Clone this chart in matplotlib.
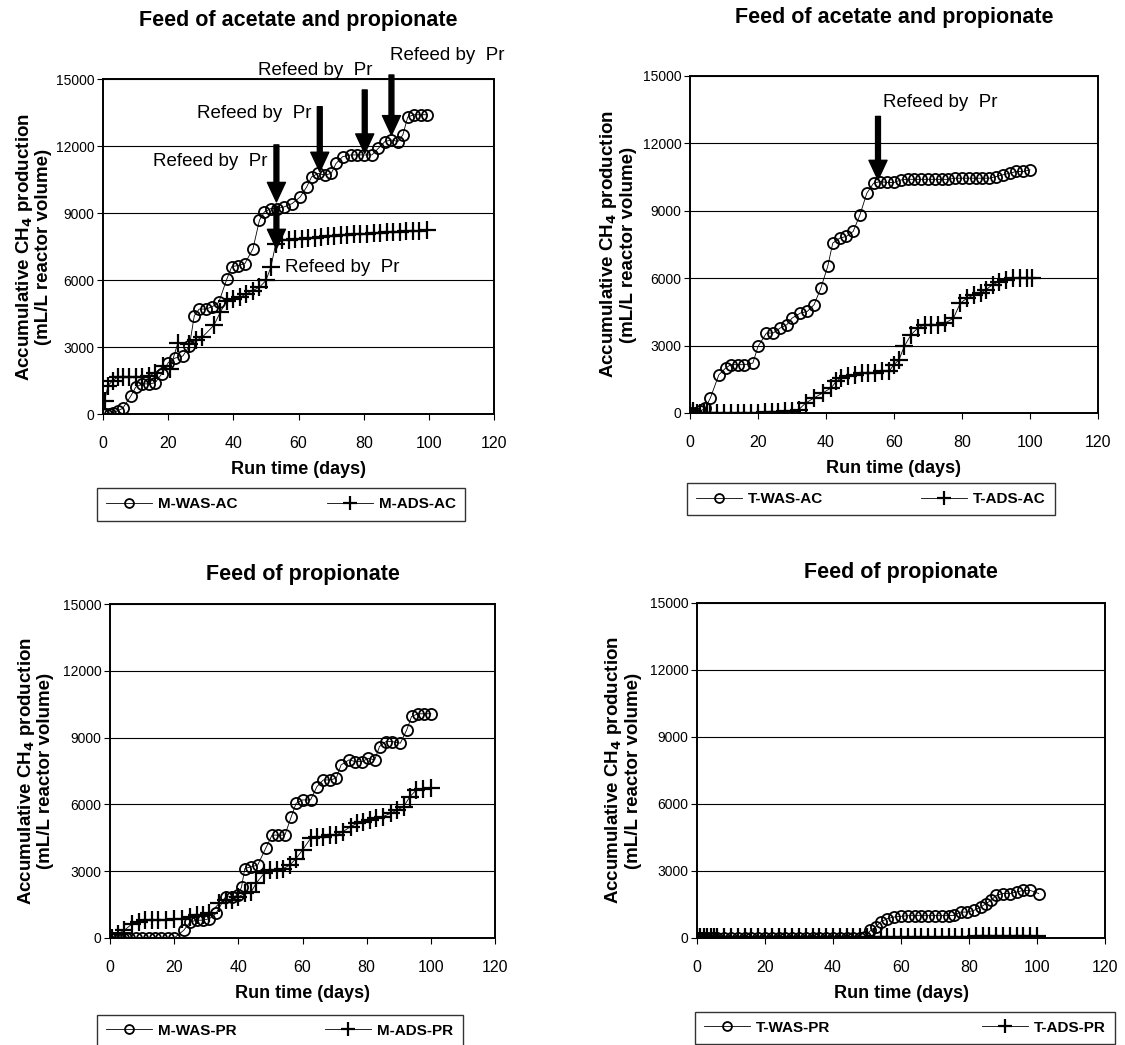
import matplotlib
matplotlib.use("Agg")
import matplotlib.pyplot as plt

plt.rcParams['font.family'] = ['Liberation Sans', 'DejaVu Sans']

# ---- data ----
mwas_ac_day = [0, 1, 2, 3, 4.5, 6, 8.5, 10, 12, 14, 16, 18, 20, 22, 24.5, 26.5, 28, 29.5, 31.5, 33.5,
               35.5, 38, 39.5, 41.5, 43.5, 46, 48, 49.5, 51.5, 53.5, 55.5, 58, 60.5, 62.5, 64, 66, 68, 70,
               71.5, 73.5, 76, 78, 80, 82.5, 84.5, 86.5, 88.5, 90.5, 92, 93.5, 95.5, 97.5, 99.5]
mwas_ac_val = [0, 0, 0, 50, 150, 250, 800, 1200, 1350, 1350, 1400, 1800, 2300, 2500, 2600, 3050, 4400, 4700, 4700, 4800,
               5000, 6050, 6600, 6650, 6730, 7400, 8680, 9050, 9200, 9200, 9270, 9420, 9720, 10170, 10620, 10770, 10700, 10770,
               11220, 11520, 11600, 11600, 11600, 11600, 11900, 12200, 12270, 12200, 12500, 13300, 13400, 13400, 13400]

mads_ac_day = [0.5, 1.5, 3, 4.5, 6, 8, 10, 12, 14, 16, 18.5, 20.5, 23, 26.5, 28.5, 30.5, 34, 36, 38, 40,
               42, 44, 46, 48, 50, 51.5, 53, 55, 57, 59, 61, 63, 65, 67, 69, 71, 73, 75, 77, 79,
               81, 83, 85, 87, 89, 91, 93, 95, 97, 99.5]
mads_ac_val = [600, 1270, 1500, 1650, 1650, 1650, 1650, 1650, 1700, 1850, 2150, 2000, 3200, 3150, 3300, 3450, 3970, 4560, 5080, 5160,
               5230, 5380, 5530, 5680, 5980, 6580, 7630, 7780, 7800, 7820, 7850, 7870, 7900, 7920, 7950, 7970, 8000, 8020, 8040, 8060,
               8080, 8100, 8110, 8130, 8150, 8170, 8180, 8200, 8210, 8230]

twas_ac_day = [0, 1.5, 3, 4.5, 6, 8.5, 10.5, 12, 14, 16, 18.5, 20, 22.5, 24.5, 26.5, 28.5, 30, 32.5, 34.5, 36.5,
               38.5, 40.5, 42, 44, 46, 48, 50, 52, 54, 56, 58, 60, 62, 64, 66, 68, 70, 72, 74, 76,
               78, 80, 82, 84, 86, 88, 90, 92, 94, 96, 98, 100]
twas_ac_val = [0, 0, 70, 220, 670, 1700, 2000, 2150, 2150, 2150, 2220, 2960, 3560, 3560, 3780, 3930, 4220, 4450, 4520, 4820,
               5560, 6520, 7560, 7780, 7860, 8080, 8820, 9780, 10230, 10300, 10260, 10260, 10370, 10400, 10400, 10400, 10400, 10400, 10400, 10400,
               10450, 10450, 10450, 10450, 10450, 10450, 10520, 10600, 10670, 10750, 10750, 10820]

tads_ac_day = [0, 1, 2, 3, 4, 5, 6, 8, 10, 12, 14, 16, 18, 20, 22, 24, 26, 28, 30, 32,
               34, 36.5, 39, 41.5, 43, 44.5, 46.5, 48.5, 50.5, 52.5, 54.5, 56.5, 58.5, 60, 61.5, 63, 65, 67, 69, 71,
               73, 75, 77.5, 79.5, 81.5, 83.5, 85.5, 87, 89, 91, 93, 95, 97, 99, 100.5]
tads_ac_val = [0, 70, 0, 0, 0, 0, 0, 0, 0, 0, 0, 0, 0, 0, 30, 50, 60, 80, 100, 150,
               440, 670, 890, 1110, 1410, 1560, 1630, 1700, 1780, 1780, 1780, 1850, 1850, 2150, 2370, 2960, 3480, 3780, 3930, 3930,
               3930, 4000, 4220, 4890, 5110, 5260, 5330, 5480, 5710, 5850, 5930, 6000, 6000, 6000, 6000]

mwas_pr_day = [0, 1, 2, 3, 4, 5, 6, 8, 10, 12, 14, 16, 18, 20, 23, 25, 27, 29, 31, 33,
               36, 38, 40, 41, 42, 44, 46, 48.5, 50.5, 52.5, 54.5, 56.5, 58, 60, 62.5, 64.5, 66.5, 68.5, 70.5, 72,
               74.5, 76.5, 78.5, 80.5, 82.5, 84, 86, 88, 90.5, 92.5, 94, 96, 98, 100]
mwas_pr_val = [0, 0, 0, 0, 0, 0, 0, 0, 0, 0, 0, 0, 0, 0, 350, 720, 800, 800, 870, 1100,
               1850, 1850, 1920, 2300, 3120, 3200, 3270, 4020, 4620, 4620, 4620, 5450, 6050, 6200, 6200, 6800, 7100, 7100, 7170, 7770,
               8000, 7920, 7920, 8070, 8000, 8600, 8820, 8820, 8750, 9350, 9950, 10070, 10070, 10070]

mads_pr_day = [0.5, 2.5, 4.5, 7, 9, 11, 13, 15, 17.5, 20, 22.5, 25, 27, 29, 31, 34, 36, 38, 40, 42,
               44, 45.5, 48, 50, 52, 54, 56, 58, 60, 62.5, 64.5, 66.5, 68.5, 70.5, 72.5, 75, 77, 79, 81, 83,
               85, 87.5, 89.5, 91.5, 93.5, 95.5, 97.5, 100]
mads_pr_val = [0, 200, 350, 650, 720, 800, 800, 800, 800, 870, 870, 950, 1020, 1020, 1100, 1550, 1700, 1700, 1850, 2000,
               2070, 2450, 2900, 3050, 3050, 3120, 3270, 3570, 3950, 4470, 4550, 4550, 4620, 4620, 4770, 5000, 5150, 5220, 5300, 5370,
               5450, 5600, 5750, 5900, 6350, 6650, 6670, 6720]

twas_pr_day = [0, 0.5, 1, 1.5, 2, 3, 4, 5, 6, 8, 10, 12, 14, 16, 18, 20, 22, 24, 26, 28,
               30, 32, 34, 36, 38, 40, 42, 44, 46, 48, 49.5, 51, 52.5, 54, 56, 58, 60, 62, 64, 66,
               68, 70, 72, 74, 75.5, 77.5, 79.5, 81.5, 83.5, 85, 86.5, 88, 90, 92, 94, 96, 98, 100.5]
twas_pr_val = [0, 0, 0, 0, 0, 0, 0, 0, 0, 0, 0, 0, 0, 0, 0, 0, 0, 0, 0, 0,
               0, 0, 0, 0, 0, 0, 0, 0, 0, 0, 40, 340, 490, 720, 870, 940, 970, 1000, 1000, 1000,
               1000, 1000, 1000, 1000, 1010, 1160, 1160, 1240, 1390, 1540, 1690, 1910, 1990, 1990, 2060, 2130, 2130, 1990]

tads_pr_day = [0, 1, 2, 3, 4, 5, 6, 8, 10, 12, 14, 16, 18, 20, 22, 24, 26, 28, 30, 32,
               34, 36, 38, 40, 42, 44, 46, 48, 50, 52, 54, 56, 58, 60, 62, 64, 66, 68, 70, 72,
               74, 76, 78, 80, 82, 84, 86, 88, 90, 92, 94, 96, 98, 100]
tads_pr_val = [40, 40, 40, 40, 40, 40, 40, 40, 40, 40, 40, 40, 40, 40, 40, 40, 40, 40, 40, 40,
               40, 40, 40, 40, 60, 60, 60, 60, 60, 60, 60, 60, 60, 60, 60, 60, 60, 60, 60, 60,
               60, 60, 60, 60, 80, 80, 80, 80, 80, 80, 80, 80, 80, 80]

titles = ['Feed of acetate and propionate', 'Feed of acetate and propionate',
          'Feed of propionate', 'Feed of propionate']
labels = [('M-WAS-AC', 'M-ADS-AC'), ('T-WAS-AC', 'T-ADS-AC'),
          ('M-WAS-PR', 'M-ADS-PR'), ('T-WAS-PR', 'T-ADS-PR')]
series = [(mwas_ac_day, mwas_ac_val, mads_ac_day, mads_ac_val),
          (twas_ac_day, twas_ac_val, tads_ac_day, tads_ac_val),
          (mwas_pr_day, mwas_pr_val, mads_pr_day, mads_pr_val),
          (twas_pr_day, twas_pr_val, tads_pr_day, tads_pr_val)]

# layout (figure fractions)
rects = [[0.0916, 0.6038, 0.3476, 0.3206],
         [0.6133, 0.6048, 0.3627, 0.3225],
         [0.0978, 0.1024, 0.3422, 0.3196],
         [0.6196, 0.1024, 0.3627, 0.3206]]
title_pads = [38, 38, 17, 18]
ylab_x = [-0.13, -0.13, -0.145, -0.135]
leg_box = [(-0.015, -0.322, 0.941, 0.104),
           (-0.007, -0.320, 0.902, 0.13),
           (-0.034, -0.330, 0.950, 0.104),
           (-0.005, -0.320, 1.03, 0.104)]

fig = plt.figure(figsize=(11.25, 10.45), dpi=100)
axes = []
for i in range(4):
    ax = fig.add_axes(rects[i])
    axes.append(ax)
    d1, v1, d2, v2 = series[i]
    ax.plot(d1, v1, color='black', lw=0.6, marker='o', ms=8, mfc='none', mec='black', mew=1.3,
            label=labels[i][0])
    ax.plot(d2, v2, color='black', lw=0.6, marker='+', ms=13, mew=1.6, label=labels[i][1])
    ax.set_xlim(0, 120)
    ax.set_ylim(0, 15000)
    ax.set_xticks([0, 20, 40, 60, 80, 100, 120])
    ax.set_yticks([0, 3000, 6000, 9000, 12000, 15000])
    ax.yaxis.grid(True, color='black', lw=0.8)
    ax.set_axisbelow(True)
    for s in ax.spines.values():
        s.set_linewidth(1.4)
    ax.tick_params(axis='x', labelsize=11.5, length=4, pad=12)
    ax.tick_params(axis='y', labelsize=10, length=4, pad=2)
    ax.set_title(titles[i], fontsize=15.5, fontweight='bold', pad=title_pads[i])
    ax.set_xlabel('Run time (days)', fontsize=13, fontweight='bold', labelpad=7)
    ax.set_ylabel('Accumulative CH$_\\mathbf{4}$ production\n(mL/L reactor volume)',
                  fontsize=13.5, fontweight='bold', linespacing=1.05)
    ax.yaxis.set_label_coords(ylab_x[i], 0.5)
    leg = ax.legend(loc='center', bbox_to_anchor=leg_box[i], mode='expand', ncol=2,
                    frameon=True, fancybox=False, edgecolor='black', handlelength=3.0,
                    handletextpad=0.4, markerscale=0.8,
                    prop={'weight': 'bold', 'size': 11}, borderpad=0.6, borderaxespad=0)
    leg.get_frame().set_linewidth(1.0)

# refeed arrows
arrow_kw = dict(facecolor='black', edgecolor='black', width=3.5, headwidth=13, headlength=14, shrink=0)
ax = axes[0]
ref_arrows = [(53.2, 12050, 9500), (53.2, 9300, 7400), (66.5, 13760, 10850),
              (80.3, 14510, 11670), (88.5, 15180, 12490)]
for x, y0, y1 in ref_arrows:
    ax.annotate('', xy=(x, y1), xytext=(x, y0), arrowprops=arrow_kw, annotation_clip=False)
txt = dict(fontsize=13.5, va='center')
ax.text(50.6, 11290, 'Refeed by  Pr', ha='right', **txt)
ax.text(55.8, 6580, 'Refeed by  Pr', ha='left', **txt)
ax.text(64.0, 13460, 'Refeed by  Pr', ha='right', **txt)
ax.text(65.2, 15360, 'Refeed by  Pr', ha='center', **txt)
ax.text(88.0, 16070, 'Refeed by  Pr', ha='left', clip_on=False, **txt)

ax = axes[1]
ax.annotate('', xy=(55.3, 10380), xytext=(55.3, 13200), arrowprops=arrow_kw)
ax.text(56.8, 13800, 'Refeed by  Pr', ha='left', **txt)

fig.savefig('out.png', dpi=100)
